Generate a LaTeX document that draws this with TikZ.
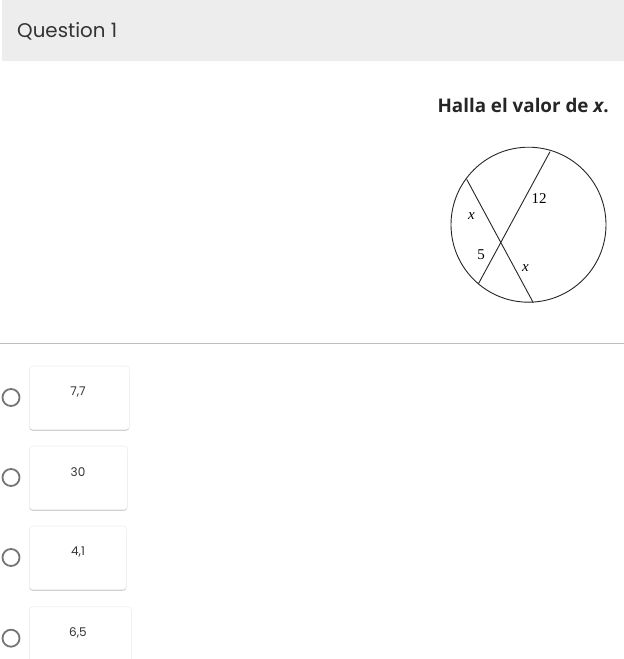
\documentclass[tikz,border=0pt]{standalone}
\usepackage{fontspec}
\setmainfont{Poppins}
\newfontfamily\osans{Open Sans}
\newfontfamily\tms{Liberation Serif}
\definecolor{hdr}{HTML}{EDEDED}
\definecolor{txt}{HTML}{333333}
\definecolor{rad}{HTML}{757575}
\definecolor{rule}{HTML}{BDBDBD}
\tikzset{
  optbox/.style={fill=white, draw=black!6, rounded corners=3pt, line width=0.6pt},
  optshadow/.style={fill=black!28, rounded corners=3pt, draw=none},
  radio/.style={circle, draw=rad, line width=1.8pt, minimum size=17pt, inner sep=0pt},
  opttext/.style={font=\fontsize{12}{14}\selectfont, text=txt, inner sep=0pt},
  lbl/.style={font=\tms\fontsize{15}{17}\selectfont, inner sep=0pt},
  chord/.style={line width=0.9pt, black!85}
}
\begin{document}
\begin{tikzpicture}[x=1pt,y=-1pt]
\useasboundingbox (0,0) rectangle (624,659);
\fill[white] (0,0) rectangle (624,659);
% header
\fill[hdr] (2,0) rectangle (624,61);
\node[anchor=base west, font=\fontsize{19.8}{22}\selectfont, text=txt, inner sep=0pt] (title) at (17,37) {Question 1};
% question text
\node[anchor=base east, font=\osans\bfseries\fontsize{18.8}{22}\selectfont, text=black!85, inner sep=0pt] (q) at (609,112) {Halla el valor de \textit{x}.};
% circle
\coordinate (O) at (528.5,224.7);
\draw[line width=0.9pt, black!85] (O) circle (77.5pt);
\coordinate (A1) at (466.7,179.3);
\coordinate (A2) at (533.3,302.7);
\coordinate (B1) at (550,151.7);
\coordinate (B2) at (478.3,284);
\draw[chord] (A1) -- (A2);
\draw[chord] (B1) -- (B2);
\node[lbl] (l12) at (539,198.5) {12};
\node[lbl] (lx1) at (471.5,216) {\textit{x}};
\node[lbl] (l5) at (481,254.5) {5};
\node[lbl] (lx2) at (525.5,268.5) {\textit{x}};
% rule
\draw[rule, line width=0.9pt] (0,343) -- (624,343);
% options
\foreach \y/\w/\t/\n in {366/100/{7,7}/a, 446/98/{30}/b, 526/97/{4,1}/c, 606.7/102/{6,5}/d}{
  \fill[optshadow] (29.3,\y+1.5) rectangle (29.3+\w,\y+64.5);
  \draw[optbox] (29.3,\y) rectangle (29.3+\w,\y+63.5);
  \node[opttext] (opt\n) at (78,\y+26.5) {\t};
  \node[radio] (rad\n) at (11,\y+31.5) {};
}
\end{tikzpicture}
\end{document}
